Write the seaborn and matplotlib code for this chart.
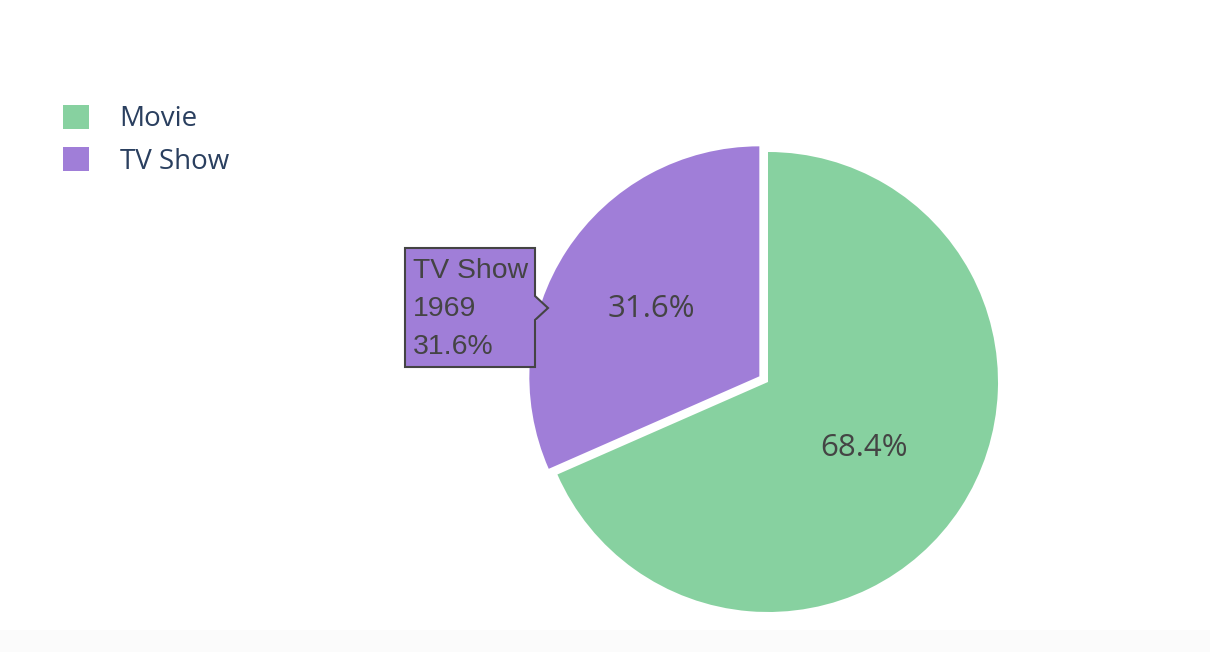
import numpy as np
import matplotlib.pyplot as plt
import seaborn as sns
from matplotlib.patches import Patch, Polygon, Rectangle

# data
types = ['Movie', 'TV Show']
counts = [4265, 1969]
colors = ['#87d1a0', '#a07ed8']
pulls = [0.0, 0.045]

# hovered slice (plotly tooltip)
hover_idx = 1

W, H = 1210, 652
R = 230
label_dist = [0.5, 0.56]

sns.set_theme(style='white')
plt.rcParams['font.family'] = ['Open Sans', 'DejaVu Sans']

fig = plt.figure(figsize=(W / 100, H / 100), dpi=100)
fig.patches.append(Rectangle((0, 0), 1, 22 / H, transform=fig.transFigure,
                             facecolor='#fbfbfb', edgecolor='none', zorder=0))
ax = fig.add_axes([0, 0, 1, 1])
ax.patch.set_alpha(0)

total = sum(counts)
# matplotlib's explode is in data units, so scale the pull by the radius
wedges, texts, autotexts = ax.pie(
    counts,
    colors=colors,
    explode=[p * R for p in pulls],
    startangle=90,
    counterclock=False,
    center=(768, H - 382),
    radius=R,
    autopct='%1.1f%%',
    textprops=dict(color='#444444', fontsize=22.5),
    wedgeprops=dict(linewidth=0),
)
# plotly places inside labels a bit differently per slice
for w, t, d in zip(wedges, autotexts, label_dist):
    mid = np.deg2rad((w.theta1 + w.theta2) / 2)
    cx, cy = w.center
    t.set_position((cx + d * R * np.cos(mid), cy + d * R * np.sin(mid)))
    t.set_va('center_baseline')

ax.set_xlim(0, W)
ax.set_ylim(0, H)
ax.set_aspect('equal')
ax.axis('off')

# tooltip
hx, hy = 548, H - 308
box = [
    (hx, hy), (hx - 13, hy + 12), (hx - 13, hy + 60), (hx - 143, hy + 60),
    (hx - 143, hy - 59), (hx - 13, hy - 59), (hx - 13, hy - 12),
]
ax.add_patch(Polygon(box, closed=True, facecolor=colors[hover_idx],
                     edgecolor='#444444', linewidth=1.5, zorder=5))
ax.text(hx - 135, hy - 1, f'{types[hover_idx]}\n{counts[hover_idx]}\n{counts[hover_idx] / total:.1%}',
        ha='left', va='center', fontsize=20.4, color='#444444',
        family=['Liberation Sans', 'DejaVu Sans'], linespacing=1.62, zorder=6)

handles = [Patch(facecolor=c, edgecolor='none', label=t) for c, t in zip(colors, types)]
fig.legend(handles=handles, loc='upper left', bbox_to_anchor=(63 / W, 1 - 105 / H),
           frameon=False, fontsize=20, labelcolor='#2a3f5f', handlelength=0.94,
           handleheight=0.94, handletextpad=1.1, labelspacing=0.5,
           borderpad=0, borderaxespad=0)

fig.savefig('out.png', dpi=100)
